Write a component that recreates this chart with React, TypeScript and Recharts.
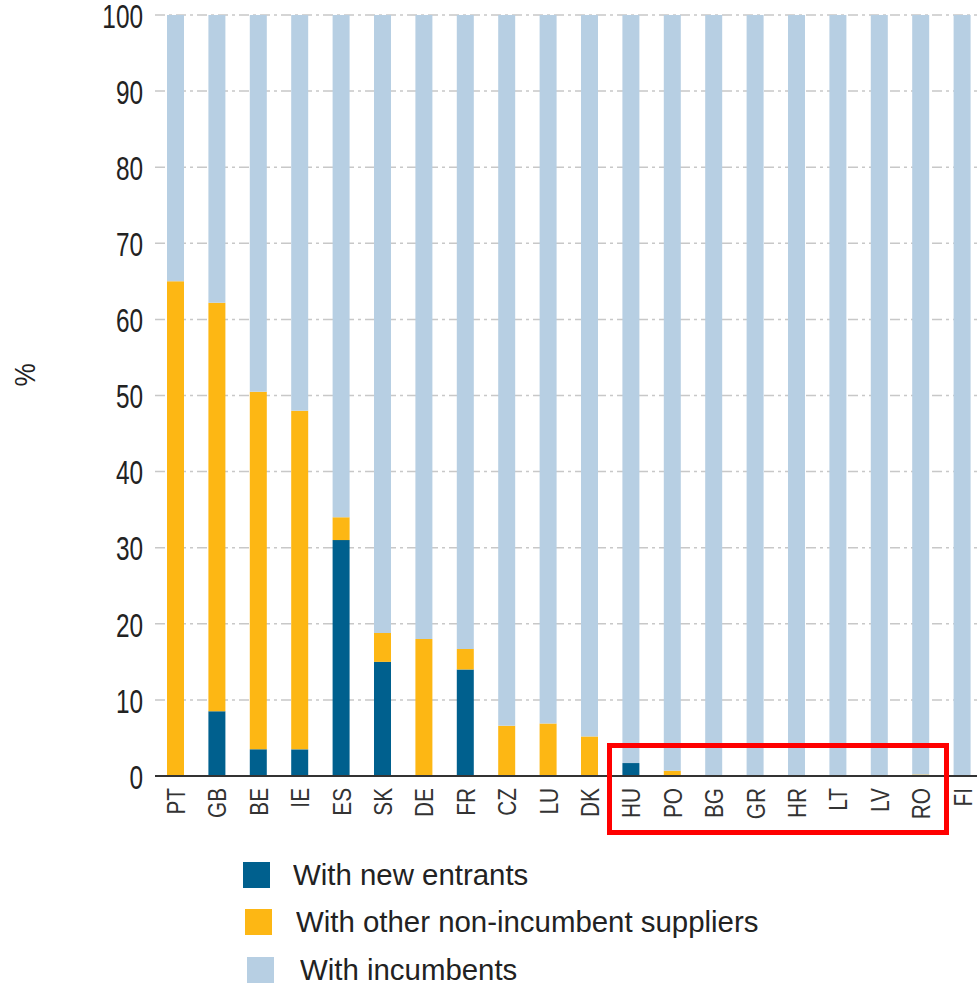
import * as React from "react"
import { Bar, BarChart, CartesianGrid, XAxis, YAxis } from "recharts"

const countries = ["PT", "GB", "BE", "IE", "ES", "SK", "DE", "FR", "CZ", "LU", "DK", "HU", "PO", "BG", "GR", "HR", "LT", "LV", "RO", "FI"]
const newEntrants = [0, 8.5, 3.5, 3.5, 31, 15, 0, 14, 0, 0, 0, 1.7, 0, 0, 0, 0, 0, 0, 0, 0]
const otherSuppliers = [65, 53.7, 47, 44.5, 3, 3.8, 18, 2.7, 6.6, 6.9, 5.2, 0, 0.7, 0, 0, 0, 0, 0, 0.2, 0]
const incumbents = [35, 37.8, 49.5, 52, 66, 81.2, 82, 83.3, 93.4, 93.1, 94.8, 98.3, 99.3, 100, 100, 100, 100, 100, 99.8, 100]
const yTicks = [0, 10, 20, 30, 40, 50, 60, 70, 80, 90, 100]

const series = [
  { key: "newEntrants", name: "With new entrants", color: "#00608E" },
  { key: "otherSuppliers", name: "With other non-incumbent suppliers", color: "#FDB714" },
  { key: "incumbents", name: "With incumbents", color: "#B7CFE3" },
]

// the legend rows drift a little to the right in the original
const legendShift = [0, 2, 4]
const legendTextShift = [0, 1, 3]

const data = countries.map((country, i) => ({
  country,
  newEntrants: newEntrants[i],
  otherSuppliers: otherSuppliers[i],
  incumbents: incumbents[i],
}))

const font = "'Liberation Sans', Arial, sans-serif"

const YTick = ({ x, y, payload }: any) => (
  <g transform={`translate(${x},${y + 1}) scale(0.75,1)`}>
    <text textAnchor="end" dy="0.36em" fontSize={32.5} fontFamily={font} fill="#222">
      {payload.value}
    </text>
  </g>
)

const XTick = ({ x, y, payload }: any) => (
  <g transform={`translate(${x},${y}) rotate(-90) scale(0.8,1)`}>
    <text textAnchor="end" dy="0.36em" fontSize={26} fontFamily={font} fill="#333">
      {payload.value}
    </text>
  </g>
)

const PercentLabel = () => (
  <g transform="translate(25,375) rotate(-90) scale(0.9,1)">
    <text textAnchor="middle" dy="0.36em" fontSize={29} fontFamily={font} fill="#222">
      %
    </text>
  </g>
)

export default function App() {
  return (
    <div style={{ position: "absolute", left: 0, top: 0, width: 977, height: 988, overflow: "hidden", background: "#fff" }}>
      <BarChart
        width={990}
        height={988}
        data={data}
        margin={{ top: 15, right: 7, bottom: 152, left: 0 }}
        barSize={17}
      >
        <CartesianGrid vertical={false} stroke="#c8c8c8" strokeDasharray="10 4 3 4" strokeWidth={1.5} />
        <XAxis
          dataKey="country"
          interval={0}
          height={60}
          tickLine={false}
          tickSize={0}
          tickMargin={12}
          axisLine={{ stroke: "#333", strokeWidth: 2 }}
          tick={<XTick />}
        />
        <YAxis
          width={155}
          domain={[0, 100]}
          ticks={yTicks}
          axisLine={false}
          tickLine={false}
          tickSize={0}
          tickMargin={12}
          tick={<YTick />}
          label={<PercentLabel />}
        />
        {series.map((s) => (
          <Bar key={s.key} dataKey={s.key} name={s.name} stackId="a" fill={s.color} isAnimationActive={false} />
        ))}
      </BarChart>

      <div style={{ position: "absolute", left: 607, top: 743, width: 342, height: 92, border: "5px solid #ff0000", boxSizing: "border-box" }} />

      <div style={{ position: "absolute", left: 243, top: 851, fontFamily: font }}>
        {series.map((s, i) => (
          <div key={s.key} style={{ display: "flex", alignItems: "center", height: 47.5, paddingLeft: legendShift[i] }}>
            <div style={{ width: 27, height: 26, background: s.color }} />
            <span
              style={{
                marginLeft: 23 + legendTextShift[i],
                fontSize: 30,
                color: "#222",
                transform: "scaleX(0.98)",
                transformOrigin: "left center",
                whiteSpace: "nowrap",
              }}
            >
              {s.name}
            </span>
          </div>
        ))}
      </div>
    </div>
  )
}
